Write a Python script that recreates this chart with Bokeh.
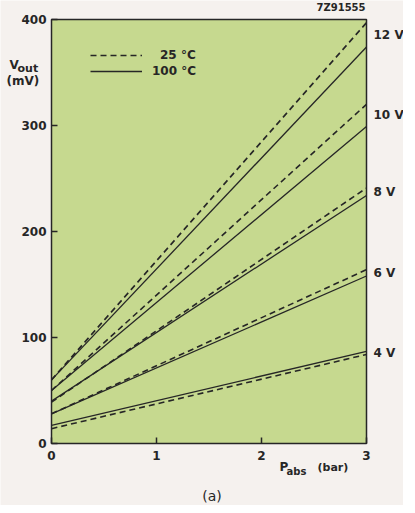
from bokeh.plotting import figure
from bokeh.models import Range1d, Label, Legend, LegendItem, LinearAxis, FixedTicker
from bokeh.embed import file_html
from bokeh.resources import INLINE

# ---- data ----
p_bar = [0, 3]
supply = ["12 V", "10 V", "8 V", "6 V", "4 V"]
vout_25 = {            # dashed, 25 degC
    "12 V": [60, 397],
    "10 V": [50, 320],
    "8 V": [39, 241],
    "6 V": [28, 164],
    "4 V": [14, 84],
}
vout_100 = {           # solid, 100 degC
    "12 V": [60, 374],
    "10 V": [50, 299],
    "8 V": [40, 234],
    "6 V": [28, 158],
    "4 V": [17, 87],
}
x_ticks = [0, 1, 2, 3]
y_ticks = [0, 100, 200, 300, 400]

GREEN = "#c6d98f"
PAPER = "#f5f1ee"
INK = "#262626"
FONT = "DejaVu Sans"

# layout: figure of W x H px; data box (0..3, 0..400) occupies these pixel edges
W, H = 403, 505
BOX_L, BOX_R, BOX_T, BOX_B = 51, 366, 19, 443
sx = (BOX_R - BOX_L) / (x_ticks[-1] - x_ticks[0])
sy = (BOX_B - BOX_T) / (y_ticks[-1] - y_ticks[0])
xr = Range1d(x_ticks[0] - BOX_L / sx, x_ticks[-1] + (W - BOX_R) / sx)
yr = Range1d(y_ticks[0] - (H - BOX_B) / sy, y_ticks[-1] + BOX_T / sy)

p = figure(width=W, height=H, x_range=xr, y_range=yr,
           output_backend="svg", toolbar_location=None,
           x_axis_location=None, y_axis_location=None,
           min_border=0)
p.background_fill_color = PAPER
p.border_fill_color = PAPER
p.outline_line_color = None
p.grid.visible = False

# green data area with its frame
p.quad(left=x_ticks[0], right=x_ticks[-1], bottom=y_ticks[0], top=y_ticks[-1],
       fill_color=GREEN, line_color=INK, line_width=1.5)

def style_axis(ax):
    ax.axis_line_color = None
    ax.major_tick_line_color = INK
    ax.major_tick_line_width = 1.5
    ax.major_tick_in = 6
    ax.major_tick_out = 0
    ax.minor_tick_line_color = None
    ax.major_label_text_font = FONT
    ax.major_label_text_font_size = "12px"
    ax.major_label_text_font_style = "bold"
    ax.major_label_text_color = INK

xax = LinearAxis(ticker=FixedTicker(ticks=x_ticks), fixed_location=y_ticks[0])
style_axis(xax)
xax.major_label_standoff = 7
p.add_layout(xax, "below")
yax = LinearAxis(ticker=FixedTicker(ticks=y_ticks), fixed_location=x_ticks[0])
style_axis(yax)
yax.major_label_standoff = 5
p.add_layout(yax, "left")

dashed_r = None
solid_r = None
for s in supply:
    r1 = p.line(p_bar, vout_25[s], line_color=INK, line_width=1.6, line_dash="6 4")
    r2 = p.line(p_bar, vout_100[s], line_color=INK, line_width=1.3)
    dashed_r, solid_r = r1, r2
    mid = (vout_25[s][-1] + vout_100[s][-1]) / 2
    p.add_layout(Label(x=p_bar[-1], y=mid, text=s, x_offset=7, text_baseline="middle",
                       text_font=FONT, text_font_size="12px", text_font_style="bold",
                       text_color=INK))

# legends
leg1 = Legend(items=[LegendItem(label="25 \u00b0C", renderers=[dashed_r])],
              location=(90, 443), glyph_width=52, glyph_height=12, label_height=12,
              label_standoff=18, padding=0, margin=0, border_line_color=None,
              background_fill_alpha=0, label_text_font=FONT, label_text_font_size="12px",
              label_text_font_style="bold", label_text_color=INK)
leg2 = Legend(items=[LegendItem(label="100 \u00b0C", renderers=[solid_r])],
              location=(90, 427), glyph_width=52, glyph_height=12, label_height=12,
              label_standoff=10, padding=0, margin=0, border_line_color=None,
              background_fill_alpha=0, label_text_font=FONT, label_text_font_size="12px",
              label_text_font_style="bold", label_text_color=INK)
p.add_layout(leg1)
p.add_layout(leg2)

def lab(x, y, text, dx, dy, size="12px", style="bold", align="left"):
    p.add_layout(Label(x=x, y=y, text=text, x_offset=dx, y_offset=dy,
                       text_align=align, text_baseline="middle",
                       text_font=FONT, text_font_size=size, text_font_style=style,
                       text_color=INK))

# y axis title
lab(0, 400, "V", -42, -45)
lab(0, 400, "out", -34, -49, size="11px")
lab(0, 400, "(mV)", -45, -61, size="12px")
# x axis title
lab(2, 0, "P", 18, -23)
lab(2, 0, "abs", 25, -28, size="10px")
lab(2, 0, "(bar)", 56, -24, size="11px")
# caption
lab(1.5, 0, "(a)", 3, -52, size="14px", style="normal", align="center")
# drawing code number
lab(3, 400, "7Z91555", -1, 12, size="10px", align="right")

open("out.html", "w").write(file_html(p, INLINE))
